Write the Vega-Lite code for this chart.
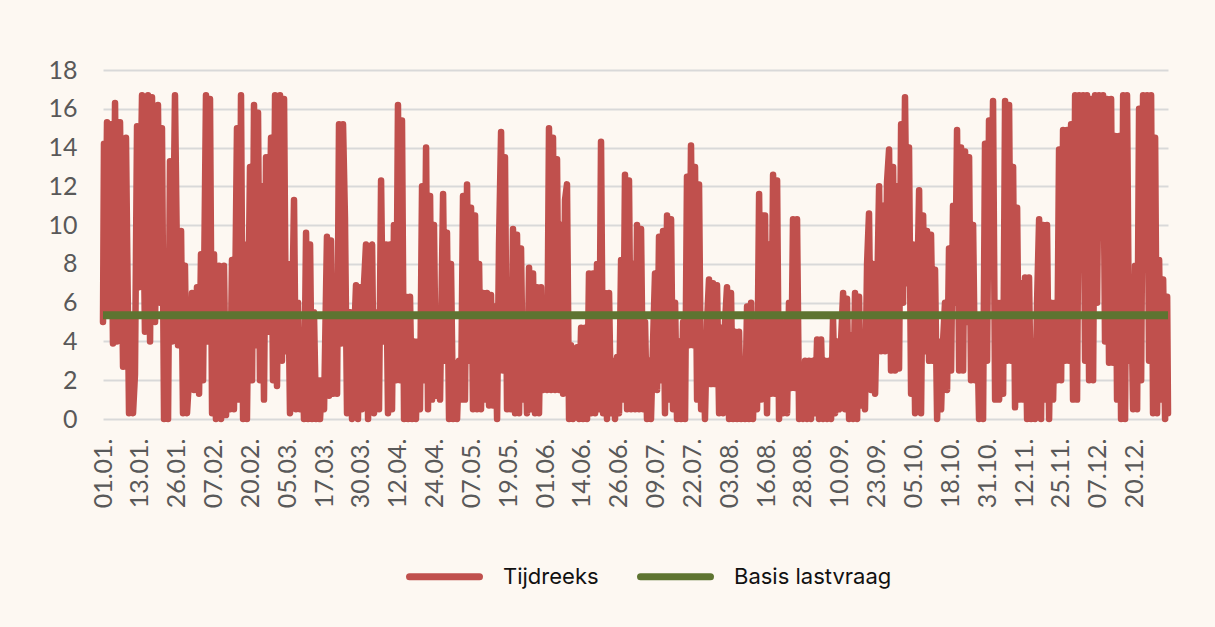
{
  "$schema": "https://vega.github.io/schema/vega-lite/v6.json",
  "width": 1065,
  "height": 349,
  "autosize": {"type": "none"},
  "padding": {"left": 103, "top": 70, "right": 47, "bottom": 208},
  "background": "#FDF8F2",
  "config": {
    "view": {"stroke": null},
    "axis": {"labelFont": "Lato", "labelFontSize": 25, "labelColor": "#595959", "title": null, "ticks": false, "tickSize": 0, "domain": false, "labelOverlap": false}
  },
  "datasets": {
    "ts": [
      {"h":0,"v":5},{"h":8,"v":14.2},{"h":16,"v":5.5},{"h":33,"v":15.3},{"h":49,"v":5.5},{"h":66,"v":15.2},{"h":82,"v":3.9},{"h":99,"v":16.3},{"h":115,"v":4},{"h":140,"v":15.3},{"h":165,"v":2.7},{"h":189,"v":14.5},{"h":214,"v":0.3},{"h":230,"v":5},{"h":247,"v":0.3},{"h":263,"v":2.3},{"h":280,"v":15.1},{"h":296,"v":6.8},{"h":321,"v":16.7},{"h":345,"v":4.5},{"h":370,"v":16.7},{"h":387,"v":4},{"h":403,"v":16.6},{"h":428,"v":5},{"h":452,"v":16.2},{"h":469,"v":6},{"h":485,"v":15},{"h":502,"v":0},{"h":518,"v":7},{"h":535,"v":0},{"h":551,"v":13.3},{"h":568,"v":4},{"h":592,"v":16.7},{"h":617,"v":3.8},{"h":642,"v":9.7},{"h":658,"v":0.3},{"h":674,"v":7.9},{"h":691,"v":0.3},{"h":716,"v":3},{"h":732,"v":6.5},{"h":748,"v":1.5},{"h":773,"v":6.8},{"h":790,"v":1.3},{"h":806,"v":8.5},{"h":823,"v":2},{"h":847,"v":16.7},{"h":864,"v":4},{"h":880,"v":16.5},{"h":897,"v":0.3},{"h":913,"v":8.5},{"h":929,"v":0},{"h":954,"v":7.9},{"h":971,"v":0},{"h":995,"v":7.9},{"h":1012,"v":0.2},{"h":1028,"v":5},{"h":1045,"v":0.5},{"h":1061,"v":8.2},{"h":1077,"v":0.5},{"h":1102,"v":15},{"h":1119,"v":1},{"h":1135,"v":16.7},{"h":1152,"v":0},{"h":1168,"v":9},{"h":1184,"v":0},{"h":1209,"v":13},{"h":1226,"v":2},{"h":1242,"v":16.2},{"h":1258,"v":3.8},{"h":1275,"v":15.8},{"h":1291,"v":2},{"h":1308,"v":12},{"h":1324,"v":1},{"h":1341,"v":13.5},{"h":1357,"v":4.5},{"h":1382,"v":14.5},{"h":1398,"v":2},{"h":1415,"v":16.7},{"h":1431,"v":1.7},{"h":1456,"v":16.7},{"h":1472,"v":3},{"h":1489,"v":16.5},{"h":1505,"v":3.5},{"h":1522,"v":8},{"h":1538,"v":0.3},{"h":1555,"v":5},{"h":1571,"v":11.3},{"h":1587,"v":0.5},{"h":1604,"v":6},{"h":1620,"v":0.5},{"h":1637,"v":4},{"h":1653,"v":0},{"h":1670,"v":9.6},{"h":1686,"v":0},{"h":1703,"v":9},{"h":1719,"v":0},{"h":1735,"v":5.5},{"h":1752,"v":0},{"h":1768,"v":2},{"h":1785,"v":0},{"h":1801,"v":2},{"h":1818,"v":0.5},{"h":1842,"v":9.4},{"h":1859,"v":1.2},{"h":1875,"v":9.2},{"h":1892,"v":1.3},{"h":1908,"v":6},{"h":1925,"v":1.3},{"h":1941,"v":15.2},{"h":1958,"v":3.9},
      {"h":1974,"v":15.2},{"h":1990,"v":10.4},{"h":2007,"v":0.3},{"h":2032,"v":5.5},{"h":2048,"v":0},{"h":2064,"v":4},{"h":2081,"v":6.9},{"h":2097,"v":0},{"h":2114,"v":6.8},{"h":2130,"v":0.5},{"h":2147,"v":7},{"h":2163,"v":9},{"h":2180,"v":0},{"h":2196,"v":8.5},{"h":2213,"v":9},{"h":2229,"v":0.3},{"h":2254,"v":5.5},{"h":2270,"v":0.5},{"h":2287,"v":12.3},{"h":2303,"v":4},{"h":2328,"v":9},{"h":2344,"v":0.3},{"h":2361,"v":9},{"h":2377,"v":0.5},{"h":2393,"v":10},{"h":2410,"v":2},{"h":2426,"v":16.2},{"h":2443,"v":2},{"h":2459,"v":15.4},{"h":2476,"v":0},{"h":2492,"v":6.3},{"h":2509,"v":0},{"h":2525,"v":6.3},{"h":2542,"v":0},{"h":2558,"v":4},{"h":2574,"v":0},{"h":2591,"v":4},{"h":2607,"v":0.5},{"h":2624,"v":12},{"h":2640,"v":2},{"h":2657,"v":14},{"h":2673,"v":0.5},{"h":2690,"v":11.5},{"h":2706,"v":1},{"h":2722,"v":10},{"h":2739,"v":1.2},{"h":2755,"v":5},{"h":2772,"v":1},{"h":2797,"v":11.6},{"h":2813,"v":3},{"h":2829,"v":9.6},{"h":2846,"v":0},{"h":2862,"v":8},{"h":2879,"v":0},{"h":2895,"v":2.9},{"h":2912,"v":0},{"h":2928,"v":3},{"h":2945,"v":1},{"h":2961,"v":11.5},{"h":2977,"v":1},{"h":2994,"v":12.1},{"h":3010,"v":3},{"h":3027,"v":10.9},{"h":3043,"v":0.5},{"h":3060,"v":10.5},{"h":3076,"v":0.5},{"h":3093,"v":8},{"h":3109,"v":0.5},{"h":3126,"v":6.5},{"h":3142,"v":1},{"h":3158,"v":6.5},{"h":3175,"v":0.7},{"h":3191,"v":6.4},{"h":3208,"v":0.7},{"h":3224,"v":5.8},{"h":3241,"v":0},{"h":3257,"v":9},{"h":3274,"v":14.8},{"h":3290,"v":2.5},{"h":3306,"v":13.5},{"h":3323,"v":0.5},{"h":3339,"v":6},{"h":3356,"v":0.5},{"h":3372,"v":9.8},{"h":3389,"v":0.3},{"h":3405,"v":9.5},{"h":3422,"v":0.3},{"h":3438,"v":8.8},{"h":3455,"v":1},{"h":3471,"v":5},{"h":3487,"v":0.3},{"h":3504,"v":7.8},{"h":3520,"v":0.5},{"h":3537,"v":7.5},{"h":3553,"v":0.3},{"h":3570,"v":6.8},{"h":3586,"v":0.3},{"h":3603,"v":6.8},{"h":3619,"v":1.5},{"h":3635,"v":4},{"h":3652,"v":1.5},{"h":3668,"v":15},{"h":3685,"v":1.5},{"h":3701,"v":14.5},{"h":3718,"v":1.5},{"h":3734,"v":13.4},{"h":3751,"v":1.5},{"h":3767,"v":10},{"h":3784,"v":1.3},{"h":3800,"v":11.3},{"h":3816,"v":12.1},{"h":3833,"v":0},{"h":3849,"v":3.8},{"h":3866,"v":0},{"h":3882,"v":3},{"h":3899,"v":3.7},{"h":3915,"v":0},
      {"h":3932,"v":4.7},{"h":3948,"v":0},{"h":3964,"v":4.7},{"h":3981,"v":0},{"h":3997,"v":7.5},{"h":4014,"v":0.3},{"h":4030,"v":7.5},{"h":4047,"v":0.3},{"h":4063,"v":8},{"h":4080,"v":0.5},{"h":4096,"v":14.3},{"h":4113,"v":0.3},{"h":4129,"v":6.5},{"h":4145,"v":0},{"h":4162,"v":6.5},{"h":4178,"v":0.3},{"h":4195,"v":3},{"h":4211,"v":0},{"h":4228,"v":3.2},{"h":4244,"v":0.3},{"h":4261,"v":8.2},{"h":4277,"v":1},{"h":4293,"v":12.6},{"h":4310,"v":0.5},{"h":4326,"v":12.3},{"h":4343,"v":0.5},{"h":4359,"v":8},{"h":4376,"v":0.5},{"h":4392,"v":10},{"h":4409,"v":0.5},{"h":4425,"v":9.8},{"h":4442,"v":0.5},{"h":4458,"v":5},{"h":4474,"v":0},{"h":4491,"v":3},{"h":4507,"v":0},{"h":4524,"v":4},{"h":4540,"v":7.5},{"h":4557,"v":1.5},{"h":4573,"v":9.4},{"h":4590,"v":2},{"h":4606,"v":9.7},{"h":4622,"v":0.3},{"h":4639,"v":10.5},{"h":4655,"v":1},{"h":4672,"v":10.3},{"h":4688,"v":0.5},{"h":4705,"v":6},{"h":4721,"v":0},{"h":4738,"v":4},{"h":4754,"v":0},{"h":4771,"v":5},{"h":4787,"v":0},{"h":4803,"v":12.5},{"h":4820,"v":3.8},{"h":4836,"v":14.1},{"h":4853,"v":3.8},{"h":4869,"v":13},{"h":4886,"v":1},{"h":4902,"v":12.1},{"h":4919,"v":0.5},{"h":4935,"v":4.3},{"h":4951,"v":0},{"h":4968,"v":5},{"h":4984,"v":7.2},{"h":5001,"v":1.8},{"h":5017,"v":7},{"h":5034,"v":1.8},{"h":5050,"v":6.9},{"h":5067,"v":0.3},{"h":5083,"v":4.7},{"h":5100,"v":0.3},{"h":5116,"v":5},{"h":5132,"v":6.8},{"h":5149,"v":0},{"h":5165,"v":6.5},{"h":5182,"v":0},{"h":5198,"v":4.5},{"h":5215,"v":0},{"h":5231,"v":4.5},{"h":5248,"v":0},{"h":5264,"v":3},{"h":5280,"v":0},{"h":5297,"v":5.8},{"h":5313,"v":0},{"h":5330,"v":6},{"h":5346,"v":0},{"h":5363,"v":4},{"h":5379,"v":0.5},{"h":5396,"v":11.6},{"h":5412,"v":1},{"h":5429,"v":10.5},{"h":5445,"v":10.5},{"h":5461,"v":0.3},{"h":5478,"v":9},{"h":5494,"v":1.3},{"h":5511,"v":12.6},{"h":5527,"v":1.3},{"h":5544,"v":12.3},{"h":5560,"v":0},{"h":5577,"v":5},{"h":5593,"v":0.3},{"h":5610,"v":5},{"h":5626,"v":0.3},{"h":5642,"v":6},{"h":5659,"v":1.6},{"h":5675,"v":10.3},{"h":5692,"v":1.6},{"h":5708,"v":10.3},{"h":5725,"v":0},{"h":5741,"v":1.8},{"h":5758,"v":0},{"h":5774,"v":3},{"h":5790,"v":0},{"h":5807,"v":3},{"h":5823,"v":0},{"h":5840,"v":3},{"h":5856,"v":0.3},{"h":5873,"v":4.1},{"h":5889,"v":0},{"h":5906,"v":4.1},{"h":5922,"v":0},
      {"h":5938,"v":3},{"h":5955,"v":0},{"h":5971,"v":3},{"h":5988,"v":0},{"h":6004,"v":5.2},{"h":6021,"v":0.3},{"h":6037,"v":4},{"h":6054,"v":0.5},{"h":6070,"v":4},{"h":6087,"v":6.5},{"h":6103,"v":0.5},{"h":6119,"v":6.2},{"h":6136,"v":0},{"h":6152,"v":4.3},{"h":6169,"v":0},{"h":6185,"v":6.5},{"h":6202,"v":0},{"h":6218,"v":6.3},{"h":6234,"v":0.7},{"h":6251,"v":4},{"h":6267,"v":0.5},{"h":6284,"v":8},{"h":6300,"v":10.6},{"h":6317,"v":1.5},{"h":6333,"v":8},{"h":6350,"v":1.3},{"h":6366,"v":6},{"h":6383,"v":12},{"h":6399,"v":3.5},{"h":6416,"v":11},{"h":6432,"v":3.5},{"h":6448,"v":12.2},{"h":6465,"v":13.9},{"h":6481,"v":2.5},{"h":6498,"v":13},{"h":6514,"v":2.5},{"h":6531,"v":12},{"h":6547,"v":2.6},{"h":6564,"v":15.2},{"h":6580,"v":6},{"h":6596,"v":16.6},{"h":6613,"v":7},{"h":6629,"v":14},{"h":6646,"v":1.3},{"h":6662,"v":9},{"h":6679,"v":0.3},{"h":6695,"v":6},{"h":6712,"v":11.8},{"h":6728,"v":0.3},{"h":6745,"v":10.5},{"h":6761,"v":3.5},{"h":6777,"v":9.7},{"h":6794,"v":3},{"h":6810,"v":9.5},{"h":6827,"v":3},{"h":6843,"v":7.7},{"h":6860,"v":0},{"h":6876,"v":4},{"h":6893,"v":0.5},{"h":6909,"v":4},{"h":6925,"v":6},{"h":6942,"v":1.5},{"h":6958,"v":8.8},{"h":6975,"v":2.5},{"h":6991,"v":11},{"h":7008,"v":6},{"h":7024,"v":14.9},{"h":7041,"v":2.5},{"h":7057,"v":14},{"h":7074,"v":2.5},{"h":7090,"v":13.8},{"h":7106,"v":5},{"h":7123,"v":13.5},{"h":7139,"v":2},{"h":7156,"v":10},{"h":7172,"v":2},{"h":7189,"v":5},{"h":7205,"v":0},{"h":7222,"v":5.3},{"h":7238,"v":0},{"h":7254,"v":14.2},{"h":7271,"v":3},{"h":7287,"v":15.4},{"h":7304,"v":8},{"h":7320,"v":16.4},{"h":7337,"v":1},{"h":7353,"v":6},{"h":7370,"v":1},{"h":7386,"v":6},{"h":7403,"v":1.3},{"h":7419,"v":16.4},{"h":7435,"v":3},{"h":7452,"v":16.2},{"h":7468,"v":3},{"h":7485,"v":13},{"h":7501,"v":0.6},{"h":7518,"v":10.9},{"h":7534,"v":1},{"h":7551,"v":7},{"h":7567,"v":1},{"h":7583,"v":7.3},{"h":7600,"v":0},{"h":7616,"v":7.3},{"h":7633,"v":0},{"h":7649,"v":4},{"h":7666,"v":0},{"h":7682,"v":6},{"h":7699,"v":10.3},{"h":7715,"v":0},{"h":7732,"v":10},{"h":7748,"v":1},{"h":7764,"v":10},{"h":7781,"v":0},{"h":7797,"v":6},{"h":7814,"v":1},{"h":7830,"v":6},{"h":7847,"v":2},{"h":7863,"v":13.9},{"h":7880,"v":2},{"h":7896,"v":14.9},
      {"h":7912,"v":3},{"h":7929,"v":14.9},{"h":7945,"v":3},{"h":7962,"v":15.2},{"h":7978,"v":1},{"h":7995,"v":16.7},{"h":8011,"v":1},{"h":8028,"v":16.7},{"h":8044,"v":9},{"h":8061,"v":16.7},{"h":8077,"v":3},{"h":8093,"v":16.7},{"h":8110,"v":2},{"h":8126,"v":16.5},{"h":8143,"v":2},{"h":8159,"v":16.7},{"h":8176,"v":6},{"h":8192,"v":16.7},{"h":8209,"v":11.4},{"h":8225,"v":16.7},{"h":8241,"v":4},{"h":8258,"v":16.5},{"h":8274,"v":2.9},{"h":8291,"v":16.5},{"h":8307,"v":2.9},{"h":8324,"v":14.6},{"h":8340,"v":1},{"h":8357,"v":14.6},{"h":8373,"v":0},{"h":8390,"v":16.7},{"h":8406,"v":0},{"h":8422,"v":16.7},{"h":8439,"v":3},{"h":8455,"v":7},{"h":8472,"v":0.5},{"h":8488,"v":7.9},{"h":8505,"v":0.5},{"h":8521,"v":16},{"h":8538,"v":2},{"h":8554,"v":16.7},{"h":8571,"v":8.4},{"h":8587,"v":16.7},{"h":8603,"v":3},{"h":8620,"v":16.7},{"h":8636,"v":0.3},{"h":8653,"v":14.5},{"h":8669,"v":0.3},{"h":8686,"v":8.2},{"h":8702,"v":1},{"h":8719,"v":7.2},{"h":8735,"v":0},{"h":8752,"v":6.3},{"h":8759,"v":0.3}
    ],
    "base": [{"h":0,"v":5.35},{"h":8759,"v":5.35}]
  },
  "encoding": {
    "x": {
      "field": "h", "type": "quantitative",
      "scale": {"domain": [0, 8759], "nice": false, "zero": false},
      "axis": {
        "values": [0,303,606,909,1212,1515,1818,2121,2424,2727,3030,3333,3636,3939,4242,4545,4848,5151,5454,5757,6060,6363,6666,6969,7272,7575,7878,8181,8484],
        "labelExpr": "timeFormat(datetime(2023,0,1,datum.value),'%d.%m.')",
        "labelAngle": -90, "labelPadding": 19, "grid": false,
        "labelOverlap": false, "labelFlush": false, "labelBound": false
      }
    },
    "y": {
      "field": "v", "type": "quantitative",
      "scale": {"domain": [0, 18], "nice": false},
      "axis": {"values": [0,2,4,6,8,10,12,14,16,18], "grid": true, "gridColor": "#D9D9D9", "gridWidth": 2, "labelPadding": 26, "labelOverlap": false}
    }
  },
  "layer": [
    {
      "data": {"name": "ts"},
      "mark": {"type": "line", "strokeWidth": 6.5, "strokeJoin": "round", "strokeCap": "round"},
      "encoding": {
        "color": {
          "datum": "Tijdreeks", "type": "nominal",
          "scale": {"domain": ["Tijdreeks", "Basis lastvraag"], "range": ["#C0504D", "#5E7431"]},
          "legend": {
            "orient": "none", "legendX": 303, "legendY": 468, "direction": "horizontal", "title": null,
            "labelFont": "Inter", "labelFontSize": 22, "labelColor": "#111111",
            "symbolType": "stroke", "symbolSize": 4900, "symbolStrokeWidth": 7,
            "labelOffset": 20, "columnPadding": 27,
            "encode": {"symbols": {"update": {"strokeCap": {"value": "round"}}}}
          }
        }
      }
    },
    {
      "data": {"name": "base"},
      "mark": {"type": "line", "strokeWidth": 8},
      "encoding": {
        "color": {"datum": "Basis lastvraag", "type": "nominal"}
      }
    }
  ]
}
